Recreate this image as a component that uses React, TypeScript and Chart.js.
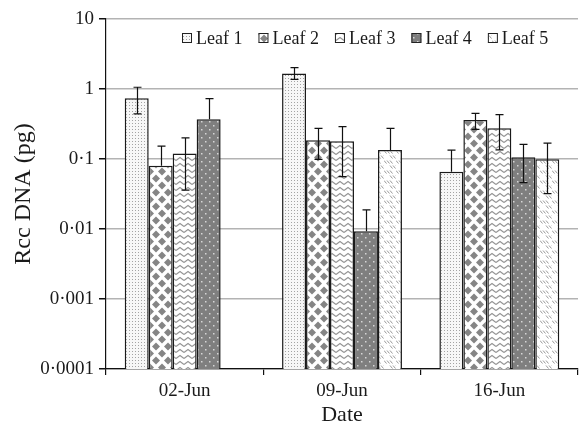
import React, { useEffect, useRef } from "react";
import { Chart, registerables } from "chart.js";

Chart.register(...registerables);

const categories = ["02-Jun", "09-Jun", "16-Jun"];
const seriesLabels = ["Leaf 1", "Leaf 2", "Leaf 3", "Leaf 4", "Leaf 5"];

const leaf1 = [0.74, 1.66, 0.066];
const leaf2 = [0.08, 0.185, 0.36];
const leaf3 = [0.12, 0.18, 0.275];
const leaf4 = [0.37, 0.0093, 0.106];
const leaf5 = [null, 0.135, 0.099];

const leaf1Plus = [0.32, 0.36, 0.068];
const leaf1Minus = [0.3, 0.29, null];
const leaf2Plus = [0.073, 0.089, 0.089];
const leaf2Minus = [null, 0.086, 0.095];
const leaf3Plus = [0.08, 0.11, 0.155];
const leaf3Minus = [0.084, 0.124, 0.14];
const leaf4Plus = [0.36, 0.0094, 0.056];
const leaf4Minus = [null, null, 0.06];
const leaf5Plus = [null, 0.139, 0.07];
const leaf5Minus = [null, null, 0.067];

const yTickValues = [0.0001, 0.001, 0.01, 0.1, 1, 10];
const yTickLabels = ["0·0001", "0·001", "0·01", "0·1", "1", "10"];

const FONT = "'Liberation Serif', 'Times New Roman', serif";

function makePattern(kind: number): CanvasPattern | string {
  const c = document.createElement("canvas");
  const ctx = c.getContext("2d");
  if (!ctx) return "#fff";
  if (kind === 0) {
    c.width = 3; c.height = 3;
    ctx.fillStyle = "#f7f7f7"; ctx.fillRect(0, 0, 3, 3);
    ctx.fillStyle = "#a3a3a3";
    ctx.fillRect(0, 0, 1, 1);
  } else if (kind === 1) {
    c.width = 12; c.height = 14;
    ctx.fillStyle = "#ffffff"; ctx.fillRect(0, 0, 12, 14);
    ctx.fillStyle = "#858585";
    const dia = (cx: number, cy: number) => {
      ctx.beginPath();
      ctx.moveTo(cx, cy - 4); ctx.lineTo(cx + 4, cy); ctx.lineTo(cx, cy + 4); ctx.lineTo(cx - 4, cy);
      ctx.closePath(); ctx.fill();
    };
    dia(6, 3.5); dia(0, 10.5); dia(12, 10.5); dia(6, 17.5); dia(0, -3.5); dia(12, -3.5);
  } else if (kind === 2) {
    c.width = 8; c.height = 6;
    ctx.fillStyle = "#ffffff"; ctx.fillRect(0, 0, 8, 6);
    ctx.strokeStyle = "#939393"; ctx.lineWidth = 1.1;
    ctx.beginPath();
    ctx.moveTo(0, 4.5); ctx.lineTo(4, 1.5); ctx.lineTo(8, 4.5);
    ctx.stroke();
  } else if (kind === 3) {
    c.width = 8; c.height = 8;
    ctx.fillStyle = "#7f7f7f"; ctx.fillRect(0, 0, 8, 8);
    ctx.fillStyle = "#d6d6d6";
    ctx.fillRect(1, 1, 1.5, 1.5);
    ctx.fillRect(5, 5, 1.5, 1.5);
  } else {
    c.width = 12; c.height = 10;
    ctx.fillStyle = "#ffffff"; ctx.fillRect(0, 0, 12, 10);
    ctx.strokeStyle = "#9a9a9a"; ctx.lineWidth = 1;
    ctx.beginPath();
    for (const ox of [0, 3, 6]) {
      ctx.moveTo(ox, 0.5); ctx.lineTo(ox + 2.5, 3.5);
    }
    for (const ox of [6, 9, 12, 0 - 3]) {
      ctx.moveTo(ox, 5.5); ctx.lineTo(ox + 2.5, 8.5);
    }
    ctx.stroke();
  }
  const p = ctx.createPattern(c, "repeat");
  return p || "#fff";
}

const errorBarPlugin = {
  id: "errorBars",
  afterDatasetsDraw(chart: any) {
    const ctx = chart.ctx;
    const yScale = chart.scales.y;
    ctx.save();
    ctx.strokeStyle = "#111";
    ctx.lineWidth = 1.2;
    chart.data.datasets.forEach((ds: any, i: number) => {
      const meta = chart.getDatasetMeta(i);
      meta.data.forEach((el: any, j: number) => {
        const v = ds.data[j];
        if (v == null) return;
        const plus = ds.errPlus[j];
        const minus = ds.errMinus[j];
        if (plus == null) return;
        const x = Math.round(el.x) + 0.5;
        const yTop = yScale.getPixelForValue(v + plus);
        const yBot = minus != null ? yScale.getPixelForValue(v - minus) : yScale.getPixelForValue(v);
        ctx.beginPath();
        ctx.moveTo(x, yBot); ctx.lineTo(x, yTop);
        ctx.moveTo(x - 4, yTop); ctx.lineTo(x + 4, yTop);
        if (minus != null) { ctx.moveTo(x - 4, yBot); ctx.lineTo(x + 4, yBot); }
        ctx.stroke();
      });
    });
    ctx.restore();
  },
};

const legendPlugin = {
  id: "customLegend",
  afterDraw(chart: any) {
    const ctx = chart.ctx;
    const area = chart.chartArea;
    let x = area.left + 76;
    const y = area.top + 19;
    ctx.save();
    ctx.font = `18px ${FONT}`;
    ctx.textBaseline = "middle";
    ctx.textAlign = "left";
    chart.data.datasets.forEach((ds: any) => {
      ctx.fillStyle = ds.backgroundColor;
      ctx.fillRect(x, y - 5, 10, 10);
      ctx.strokeStyle = "#222";
      ctx.lineWidth = 1;
      ctx.strokeRect(x + 0.5, y - 4.5, 9, 9);
      ctx.fillStyle = "#1a1a1a";
      ctx.fillText(ds.label, x + 14, y + 1);
      x += 14 + ctx.measureText(ds.label).width + 16;
    });
    ctx.restore();
  },
};

export default function App() {
  const ref = useRef<HTMLCanvasElement | null>(null);
  useEffect(() => {
    document.body.style.margin = "0";
    if (!ref.current) return;
    const values = [leaf1, leaf2, leaf3, leaf4, leaf5];
    const plus = [leaf1Plus, leaf2Plus, leaf3Plus, leaf4Plus, leaf5Plus];
    const minus = [leaf1Minus, leaf2Minus, leaf3Minus, leaf4Minus, leaf5Minus];
    const datasets = seriesLabels.map((label, i) => ({
      label,
      data: values[i],
      errPlus: plus[i],
      errMinus: minus[i],
      backgroundColor: makePattern(i),
      borderColor: "#1a1a1a",
      borderWidth: 1.5,
      categoryPercentage: 0.762,
      barPercentage: 1,
    }));
    const chart = new Chart(ref.current, {
      type: "bar",
      data: { labels: categories, datasets: datasets as any },
      plugins: [errorBarPlugin, legendPlugin],
      options: {
        responsive: false,
        animation: false,
        layout: { padding: { top: 19, right: 1, left: 0, bottom: 0 } },
        plugins: { legend: { display: false }, tooltip: { enabled: false } },
        scales: {
          x: {
            offset: true,
            grid: { offset: true, drawOnChartArea: false, drawTicks: true, tickLength: 6, tickColor: "#111", lineWidth: 1.2 },
            border: { color: "#111", width: 1.2 },
            ticks: { color: "#1a1a1a", font: { family: FONT, size: 19 }, padding: 5 },
            title: { display: true, text: "Date", color: "#1a1a1a", font: { family: FONT, size: 22 }, padding: { top: 0, bottom: 1 } },
            afterFit(scale: any) { scale.height = 60; },
          },
          y: {
            type: "logarithmic",
            min: 0.0001,
            max: 10,
            afterBuildTicks(scale: any) {
              scale.ticks = yTickValues.map((v) => ({ value: v }));
            },
            grid: { color: "#b3b3b3", lineWidth: 1.5, tickLength: 7, tickColor: "#111" },
            border: { color: "#111", width: 1.2 },
            ticks: {
              color: "#1a1a1a",
              font: { family: FONT, size: 19 },
              padding: 5,
              autoSkip: false,
              callback: (v: any) => {
                const idx = yTickValues.findIndex((t) => Math.abs(t - Number(v)) < t * 1e-6);
                return idx >= 0 ? yTickLabels[idx] : "";
              },
            },
            title: { display: true, text: "Rcc DNA (pg)", color: "#1a1a1a", font: { family: FONT, size: 24 }, padding: { top: 9, bottom: 0 } },
            afterFit(scale: any) { scale.width = 106; },
          },
        },
      } as any,
    });
    return () => chart.destroy();
  }, []);
  return (
    <div style={{ width: 579, height: 429 }}>
      <canvas ref={ref} width={579} height={429} style={{ display: "block" }} />
    </div>
  );
}
